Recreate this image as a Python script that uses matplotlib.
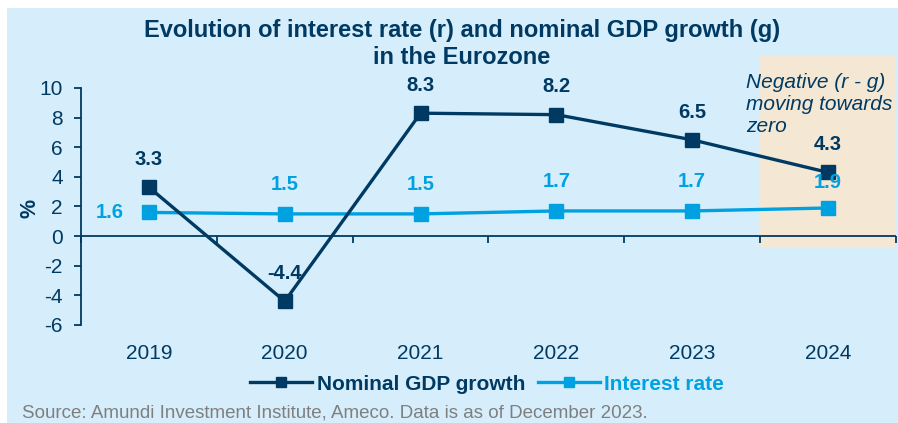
import matplotlib
matplotlib.use("Agg")
import matplotlib.pyplot as plt
from matplotlib.patches import Rectangle

years = ["2019", "2020", "2021", "2022", "2023", "2024"]
gdp_growth = [3.3, -4.4, 8.3, 8.2, 6.5, 4.3]
interest_rate = [1.6, 1.5, 1.5, 1.7, 1.7, 1.9]
yticks = [-6, -4, -2, 0, 2, 4, 6, 8, 10]

NAVY = "#003A63"
LBLUE = "#00A1E1"
BG = "#D6EEFB"
BEIGE = "#F4E7D4"
FONT = ["Liberation Sans", "DejaVu Sans"]

plt.rcParams['font.family'] = FONT
plt.rcParams['axes.unicode_minus'] = False

fig = plt.figure(figsize=(8.98, 4.23), dpi=100)
fig.patch.set_facecolor("white")
fig.patches.append(Rectangle((7/898, 0), 1, 1 - 8/423, transform=fig.transFigure,
                             facecolor=BG, edgecolor="none", zorder=-10))

ax = fig.add_axes([81/898, 1 - 325/423, (896 - 81)/898, (325 - 88)/423])
ax.set_facecolor("none")
x = list(range(len(years)))

ax.set_xlim(-0.5, len(years) - 0.5)
ax.set_ylim(-6, 10)

# shaded region for last year
ax.add_patch(Rectangle((4.5, -0.8), 1.0, 13.0, facecolor=BEIGE, edgecolor="none",
                       zorder=0, clip_on=False))

ax.plot(x, gdp_growth, color=NAVY, lw=2.4, marker="s", ms=10.5, zorder=4,
        label="Nominal GDP growth", solid_joinstyle="miter")
ax.plot(x, interest_rate, color=LBLUE, lw=2.4, marker="s", ms=10.5, zorder=3,
        label="Interest rate")

LBL = 14.5
for xi, v in zip(x, gdp_growth):
    ax.annotate(f"{v:.1f}", (xi, v), xytext=(0, 20), textcoords="offset points",
                ha="center", va="center", fontsize=LBL, fontweight="bold", color=NAVY, zorder=6)
for i, (xi, v) in enumerate(zip(x, interest_rate)):
    if i == 0:
        ax.annotate(f"{v:.1f}", (xi, v), xytext=(-28, 0), textcoords="offset points",
                    ha="center", va="center", fontsize=LBL, fontweight="bold", color=LBLUE, zorder=6)
    else:
        dy = 18 if i == len(x) - 1 else 21
        ax.annotate(f"{v:.1f}", (xi, v), xytext=(0, dy), textcoords="offset points",
                    ha="center", va="center", fontsize=LBL, fontweight="bold", color=LBLUE, zorder=6)

# zero line with category boundary ticks
ax.axhline(0, color=NAVY, lw=1.3, zorder=2)
sec = ax.secondary_xaxis(6 / 16)
sec.set_xticks([i - 0.5 for i in range(len(years) + 1)])
sec.set_xticklabels([])
sec.tick_params(axis="x", direction="out", length=5, width=1.3, color=NAVY)
sec.spines["bottom"].set_visible(False)

ax.set_xticks(x)
ax.set_xticklabels(years)
ax.tick_params(axis="x", length=0, pad=14, labelsize=15, labelcolor=NAVY)
ax.set_yticks(yticks)
ax.tick_params(axis="y", direction="out", length=5, width=1.3, color=NAVY,
               labelsize=15, labelcolor=NAVY, pad=8)
for s in ["top", "right", "bottom"]:
    ax.spines[s].set_visible(False)
ax.spines["left"].set_color(NAVY)
ax.spines["left"].set_linewidth(1.3)

fig.text(30/898, 1 - 208/423, "%", rotation=90, ha="center", va="center",
         fontsize=15.5, fontweight="bold", color=NAVY)

fig.text(462/898, 1 - 31/423, "Evolution of interest rate (r) and nominal GDP growth (g)",
         ha="center", va="center", fontsize=17, fontweight="bold", color=NAVY)
fig.text(462/898, 1 - 57/423, "in the Eurozone",
         ha="center", va="center", fontsize=17, fontweight="bold", color=NAVY)

fig.text(746/898, 1 - 105/423, "Negative (r - g)\nmoving towards\nzero", ha="left", va="center",
         fontsize=15, style="italic", color=NAVY, linespacing=1.2)

leg = fig.legend(handles=ax.get_lines()[:2], loc="center", bbox_to_anchor=(487/898, 1 - 384/423),
                 ncol=2, frameon=False, fontsize=15, handlelength=3.0, handletextpad=0.2,
                 columnspacing=0.6, markerscale=0.75)
for txt, col in zip(leg.get_texts(), [NAVY, LBLUE]):
    txt.set_color(col)
    txt.set_fontweight("bold")

fig.text(22/898, 1 - 413/423, "Source: Amundi Investment Institute, Ameco. Data is as of December 2023.",
         ha="left", va="center", fontsize=13.5, color="#7F7F7F")

fig.savefig("out.png", dpi=100)
